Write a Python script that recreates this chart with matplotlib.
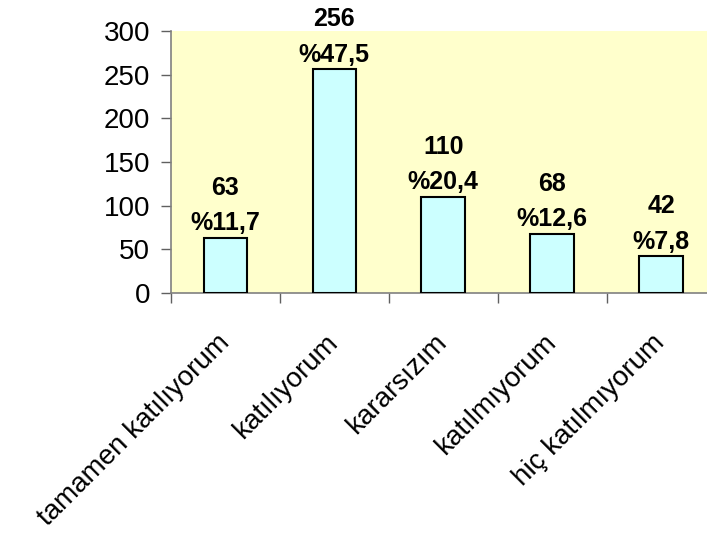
import matplotlib
matplotlib.use("Agg")
import matplotlib.pyplot as plt
from matplotlib.ticker import FixedLocator, NullFormatter

categories = ["tamamen katılıyorum", "katılıyorum", "kararsızım",
              "katılmıyorum", "hiç katılmıyorum"]
counts = [63, 256, 110, 68, 42]
y_ticks = [0, 50, 100, 150, 200, 250, 300]

plt.rcParams["font.family"] = ["Liberation Sans", "DejaVu Sans"]

W, H = 707, 538
fig = plt.figure(figsize=(W / 100, H / 100), dpi=100)
fig.patch.set_facecolor("white")

# plot area (the right side runs past the canvas edge)
left, bottom_px, top_px, cat_w = 171, 293, 31, 108.9
ax = fig.add_axes([left / W, (H - bottom_px) / H,
                   5 * cat_w / W, (bottom_px - top_px) / H])
ax.set_facecolor("#FFFFCC")

n = len(categories)
centers = [i + 0.5 for i in range(n)]
ax.bar(centers, counts, width=0.40, color="#CCFFFF",
       edgecolor="black", linewidth=1.5, zorder=3)

ax.set_xlim(0, n)
ax.set_ylim(0, 300)

for s in ("top", "right"):
    ax.spines[s].set_visible(False)
for s in ("left", "bottom"):
    ax.spines[s].set_color("#808080")
    ax.spines[s].set_linewidth(1.2)

ax.set_yticks(y_ticks)
ax.set_yticklabels([str(t) for t in y_ticks], fontsize=20)
ax.tick_params(axis="y", direction="out", length=7, width=1.0,
               color="#606060", pad=8)

# category boundaries carry the tick marks, centres carry the labels
ax.xaxis.set_major_locator(FixedLocator(list(range(n + 1))))
ax.xaxis.set_major_formatter(NullFormatter())
ax.xaxis.set_minor_locator(FixedLocator(centers))
ax.set_xticklabels(categories, minor=True)
ax.tick_params(axis="x", which="major", direction="out", length=7,
               width=1.0, color="#606060")
ax.tick_params(axis="x", which="minor", length=0, pad=33, labelsize=20)
for lbl in ax.get_xticklabels(minor=True):
    lbl.set_rotation(45)
    lbl.set_ha("right")
    lbl.set_va("center")
    lbl.set_rotation_mode("anchor")

total = sum(counts)
for x, c in zip(centers, counts):
    pct = f"%{100 * c / total:.1f}".replace(".", ",")
    ax.annotate(pct, xy=(x, c), xytext=(0, 5.5), textcoords="offset points",
                ha="center", va="baseline", fontsize=18,
                fontweight="bold", annotation_clip=False)
    ax.annotate(str(c), xy=(x, c), xytext=(0, 31), textcoords="offset points",
                ha="center", va="baseline", fontsize=18,
                fontweight="bold", annotation_clip=False)

fig.savefig("out.png", dpi=100)
